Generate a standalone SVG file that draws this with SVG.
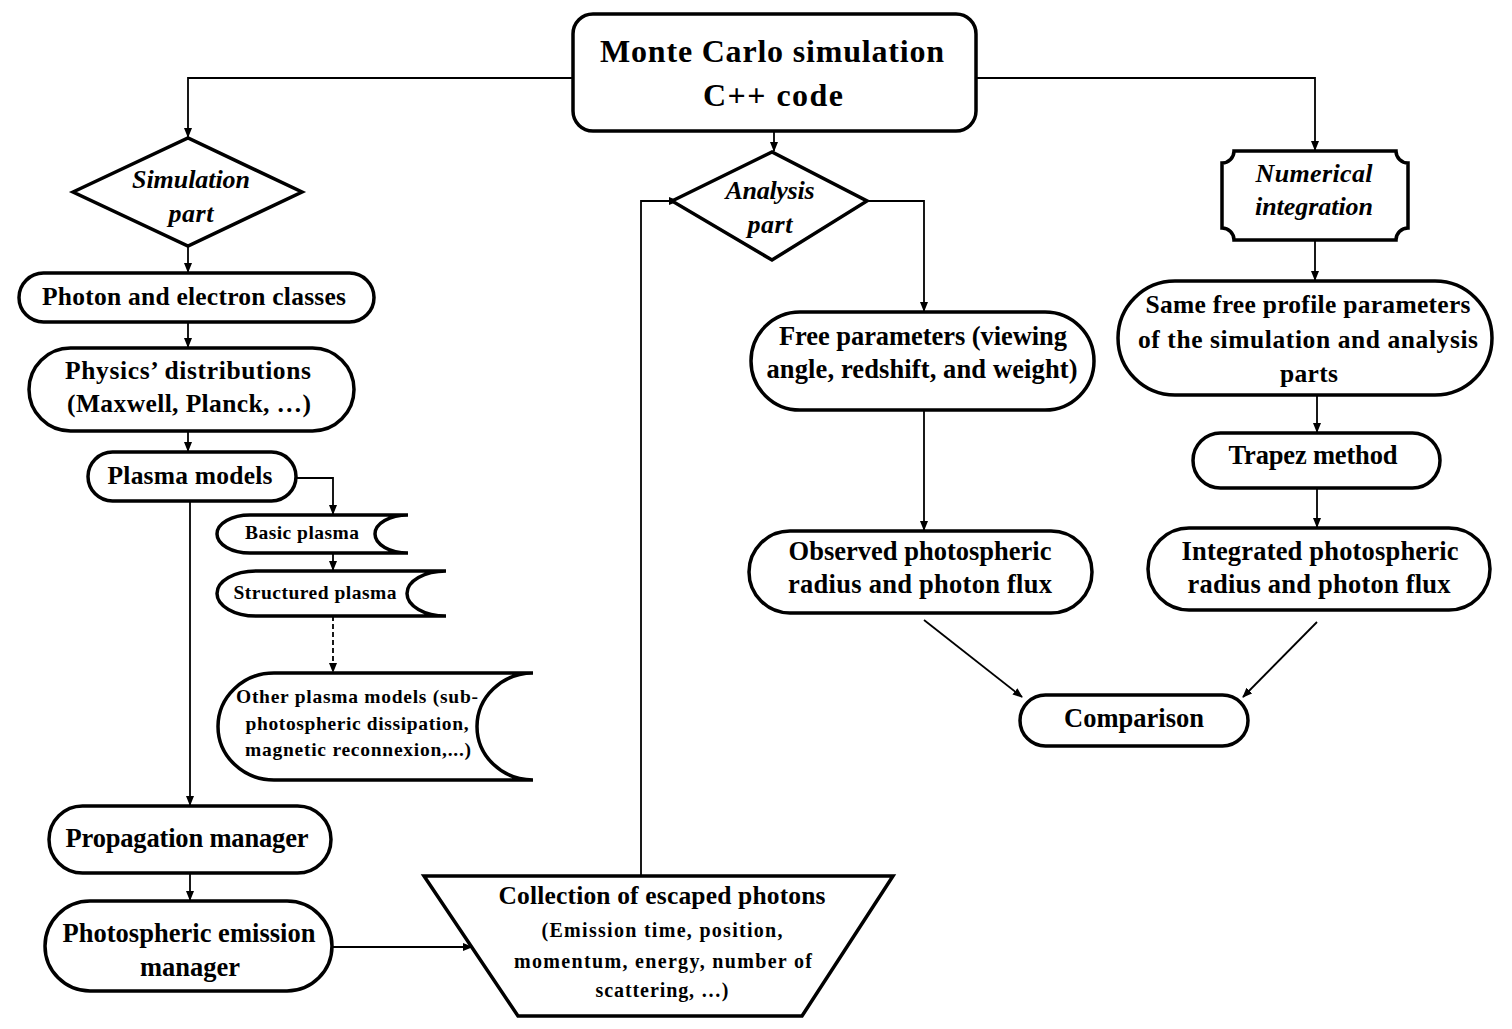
<svg xmlns="http://www.w3.org/2000/svg" width="1512" height="1029" viewBox="0 0 1512 1029">
<defs>
<marker id="ah" markerWidth="10" markerHeight="10" refX="9" refY="5" orient="auto" markerUnits="userSpaceOnUse">
<path d="M0,1 L10,5 L0,9 Z" fill="#000"/>
</marker>
<style>
.s{fill:#fff;stroke:#000;stroke-width:3.5}
.c{fill:none;stroke:#000;stroke-width:1.8}
.t{font-family:"Liberation Serif","Times New Roman",serif;font-weight:bold;fill:#000;text-anchor:middle}
.i{font-family:"Liberation Serif","Times New Roman",serif;font-style:italic;font-weight:bold;fill:#000;text-anchor:middle}
</style>
</defs>
<rect width="1512" height="1029" fill="#fff"/>
<g id="connectors">
<path class="c" d="M573,78 H188 V137" marker-end="url(#ah)"/>
<path class="c" d="M976,78 H1315 V150" marker-end="url(#ah)"/>
<path class="c" d="M774,131 V151" marker-end="url(#ah)"/>
<path class="c" d="M188,246 V272" marker-end="url(#ah)"/>
<path class="c" d="M188,322 V347" marker-end="url(#ah)"/>
<path class="c" d="M188,431 V451" marker-end="url(#ah)"/>
<path class="c" d="M296,478 H333 V514" marker-end="url(#ah)"/>
<path class="c" d="M333,553 V570" marker-end="url(#ah)"/>
<path class="c" d="M333,616 V672" stroke-dasharray="5,3" marker-end="url(#ah)"/>
<path class="c" d="M190,501 V805" marker-end="url(#ah)"/>
<path class="c" d="M190,873 V900" marker-end="url(#ah)"/>
<path class="c" d="M332,947 H472" marker-end="url(#ah)"/>
<path class="c" d="M641,876 V201 H678" marker-end="url(#ah)"/>
<path class="c" d="M867,201 H924 V311" marker-end="url(#ah)"/>
<path class="c" d="M924,410 V530" marker-end="url(#ah)"/>
<path class="c" d="M924,620 L1022,697" marker-end="url(#ah)"/>
<path class="c" d="M1317,622 L1243,697" marker-end="url(#ah)"/>
<path class="c" d="M1315,240 V280" marker-end="url(#ah)"/>
<path class="c" d="M1317,395 V432" marker-end="url(#ah)"/>
<path class="c" d="M1317,488 V527" marker-end="url(#ah)"/>
</g>
<g id="main">
<rect class="s" x="573" y="14" width="403" height="117" rx="20"/>
<text class="t" x="772" y="62" font-size="32" textLength="344">Monte Carlo simulation</text>
<text class="t" x="773" y="106" font-size="32" textLength="140">C++ code</text>
</g>
<g id="simulation">
<path class="s" d="M73,192 L188,138 L302,192 L188,246 Z"/>
<text class="i" x="191" y="188" font-size="26" textLength="118">Simulation</text>
<text class="i" x="191" y="222" font-size="26" textLength="45">part</text>
</g>
<g id="photon">
<rect class="s" x="19" y="273" width="355" height="49" rx="24.5"/>
<text class="t" x="194" y="305" font-size="25.5" textLength="304">Photon and electron classes</text>
</g>
<g id="physics">
<rect class="s" x="29" y="348" width="325" height="83" rx="41.5"/>
<text class="t" x="188" y="379" font-size="25.5" textLength="246">Physics’ distributions</text>
<text class="t" x="189" y="412" font-size="25.5" textLength="244">(Maxwell, Planck, …)</text>
</g>
<g id="plasma">
<rect class="s" x="88" y="452" width="208" height="49" rx="24.5"/>
<text class="t" x="190" y="484" font-size="25.5" textLength="165">Plasma models</text>
</g>
<g id="basic">
<path class="s" d="M250,515 L408,515 A33,19 0 0 0 408,553 L250,553 A33,19 0 0 1 250,515 Z"/>
<text class="t" x="302" y="539" font-size="19.5" textLength="114">Basic plasma</text>
</g>
<g id="structured">
<path class="s" d="M256,571 L446,571 A39,22.5 0 0 0 446,616 L256,616 A39,22.5 0 0 1 256,571 Z"/>
<text class="t" x="315" y="599" font-size="19.5" textLength="163">Structured plasma</text>
</g>
<g id="other">
<path class="s" d="M274,673 L533,673 A56,53.5 0 0 0 533,780 L274,780 A56,53.5 0 0 1 274,673 Z"/>
<text class="t" x="357" y="703" font-size="19.5" textLength="242">Other plasma models (sub-</text>
<text class="t" x="357" y="730" font-size="19.5" textLength="223">photospheric dissipation,</text>
<text class="t" x="358" y="756" font-size="19.5" textLength="226">magnetic reconnexion,...)</text>
</g>
<g id="propagation">
<rect class="s" x="49" y="806" width="282" height="67" rx="33.5"/>
<text class="t" x="187" y="847" font-size="26.5" textLength="243">Propagation manager</text>
</g>
<g id="emission">
<rect class="s" x="45" y="901" width="287" height="90" rx="45"/>
<text class="t" x="189" y="942" font-size="26.5" textLength="253">Photospheric emission</text>
<text class="t" x="190" y="976" font-size="26.5" textLength="100">manager</text>
</g>
<g id="collection">
<path class="s" d="M424,876 L893,876 L802,1016 L518,1016 Z"/>
<text class="t" x="662" y="904" font-size="25.5" textLength="327">Collection of escaped photons</text>
<text class="t" x="662" y="937" font-size="20" textLength="241">(Emission time, position,</text>
<text class="t" x="663" y="968" font-size="20" textLength="298">momentum, energy, number of</text>
<text class="t" x="662" y="997" font-size="20" textLength="133">scattering, …)</text>
</g>
<g id="analysis">
<path class="s" d="M672,201 L772,152 L867,201 L772,260 Z"/>
<text class="i" x="770" y="199" font-size="26" textLength="89">Analysis</text>
<text class="i" x="770" y="233" font-size="26" textLength="45">part</text>
</g>
<g id="free">
<rect class="s" x="751" y="312" width="343" height="98" rx="49"/>
<text class="t" x="923" y="345" font-size="26.5" textLength="288">Free parameters (viewing</text>
<text class="t" x="922" y="378" font-size="26.5" textLength="311">angle, redshift, and weight)</text>
</g>
<g id="observed">
<rect class="s" x="749" y="531" width="343" height="82" rx="41"/>
<text class="t" x="920" y="560" font-size="26.5" textLength="263">Observed photospheric</text>
<text class="t" x="920" y="593" font-size="26.5" textLength="264">radius and photon flux</text>
</g>
<g id="comparison">
<rect class="s" x="1020" y="695" width="228" height="51" rx="25.5"/>
<text class="t" x="1134" y="727" font-size="26.5" textLength="140">Comparison</text>
</g>
<g id="numerical">
<path class="s" d="M1234,151 L1396,151 A12,12 0 0 0 1408,163 L1408,228 A12,12 0 0 0 1396,240 L1234,240 A12,12 0 0 0 1222,228 L1222,163 A12,12 0 0 0 1234,151 Z"/>
<text class="i" x="1314" y="182" font-size="26" textLength="117">Numerical</text>
<text class="i" x="1314" y="215" font-size="26" textLength="118">integration</text>
</g>
<g id="same">
<rect class="s" x="1118" y="281" width="374" height="114" rx="57"/>
<text class="t" x="1308" y="313" font-size="25.5" textLength="325">Same free profile parameters</text>
<text class="t" x="1308" y="348" font-size="25.5" textLength="340">of the simulation and analysis</text>
<text class="t" x="1309" y="382" font-size="25.5" textLength="58">parts</text>
</g>
<g id="trapez">
<rect class="s" x="1193" y="433" width="247" height="55" rx="27.5"/>
<text class="t" x="1313" y="464" font-size="26.5" textLength="169">Trapez method</text>
</g>
<g id="integrated">
<rect class="s" x="1148" y="528" width="342" height="82" rx="41"/>
<text class="t" x="1320" y="560" font-size="26.5" textLength="277">Integrated photospheric</text>
<text class="t" x="1319" y="593" font-size="26.5" textLength="263">radius and photon flux</text>
</g>
</svg>
